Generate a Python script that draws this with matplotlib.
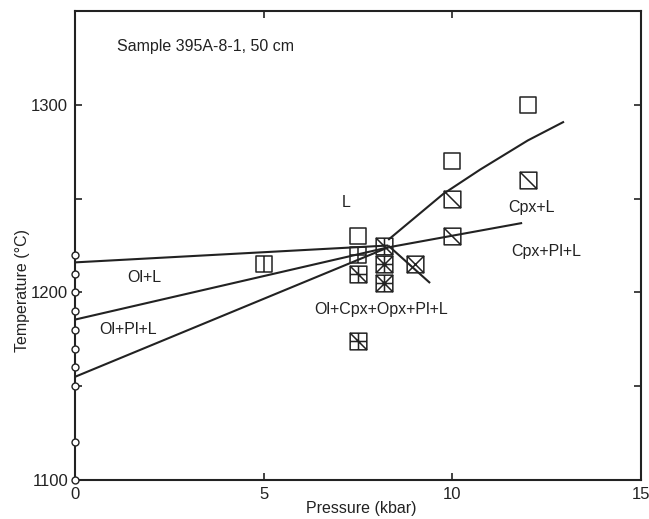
import matplotlib
matplotlib.use("Agg")
import matplotlib.pyplot as plt
from matplotlib.path import Path
import numpy as np

plt.rcParams['font.family'] = ['Liberation Sans', 'DejaVu Sans']

INK = '#222222'

# ---- data ----
# open circles along the T axis (P = 0)
circle_T = [1100, 1120, 1150, 1160, 1170, 1180, 1190, 1200, 1210, 1220]

# experiment squares by symbol type
empty_P = [7.5, 10, 12]
empty_T = [1230, 1270, 1300]
vsplit_P = [5]
vsplit_T = [1215]
plus_P = [7.5]
plus_T = [1220]
plusdiag_P = [7.5, 7.5]
plusdiag_T = [1210, 1174]
diagv_P = [8.2]
diagv_T = [1225]
star_P = [8.2, 8.2]
star_T = [1215, 1205]
cross_P = [9.0]
cross_T = [1215]
diag_P = [10, 10, 12]
diag_T = [1250, 1230, 1260]

# phase boundaries
olL_P = [0, 8.3]
olL_T = [1216, 1225]
olPlL_P = [0, 8.3]
olPlL_T = [1185.5, 1224]
plL_P = [0, 8.3]
plL_T = [1155, 1224]
cpxPl_P = [8.3, 11.85]
cpxPl_T = [1224, 1237]
cpxL_P = [8.3, 9.76, 10.74, 12.0, 12.96]
cpxL_T = [1228, 1252.5, 1265.5, 1281, 1291]
opx_P = [8.3, 9.41]
opx_T = [1225, 1205]

labels = [
    ("Sample 395A-8-1, 50 cm", 1.1, 1331, 'left'),
    ("L", 7.2, 1248, 'center'),
    ("Cpx+L", 12.1, 1245, 'center'),
    ("Cpx+Pl+L", 12.5, 1222, 'center'),
    ("Ol+L", 1.85, 1208, 'center'),
    ("Ol+Pl+L", 1.4, 1180, 'center'),
    ("Ol+Cpx+Opx+Pl+L", 8.1, 1191, 'center'),
]

# ---- marker shapes ----
SEG = {
    'v': [(0, -1), (0, 1)],
    'h': [(-1, 0), (1, 0)],
    'd': [(-1, 1), (1, -1)],
    'a': [(-1, -1), (1, 1)],
}


def square_marker(parts):
    verts = [(-1, -1), (1, -1), (1, 1), (-1, 1), (-1, -1)]
    codes = [Path.MOVETO, Path.LINETO, Path.LINETO, Path.LINETO, Path.CLOSEPOLY]
    for p in parts:
        a, b = SEG[p]
        verts += [a, b]
        codes += [Path.MOVETO, Path.LINETO]
    return Path(verts, codes)


fig = plt.figure(figsize=(6.49, 5.19), dpi=100)
ax = fig.add_axes([75 / 649, 1 - 480 / 519, 566 / 649, 469 / 519])

lw = 1.5
for P, T in [(olL_P, olL_T), (olPlL_P, olPlL_T), (plL_P, plL_T),
             (cpxPl_P, cpxPl_T), (cpxL_P, cpxL_T), (opx_P, opx_T)]:
    ax.plot(P, T, color=INK, lw=lw, solid_capstyle='butt')

ms = 12
mew = 1.1
for P, T, parts in [(empty_P, empty_T, []), (vsplit_P, vsplit_T, ['v']),
                    (plus_P, plus_T, ['v', 'h']),
                    (plusdiag_P, plusdiag_T, ['v', 'h', 'd']),
                    (diagv_P, diagv_T, ['d', 'v']),
                    (star_P, star_T, ['v', 'h', 'd', 'a']),
                    (cross_P, cross_T, ['d', 'a']),
                    (diag_P, diag_T, ['d'])]:
    ax.plot(P, T, linestyle='none', marker=square_marker(parts), ms=ms,
            mfc='none', mec=INK, mew=mew)

ax.plot(np.zeros(len(circle_T)), circle_T, linestyle='none', marker='o', ms=5,
        mfc='white', mec=INK, mew=1.0, clip_on=False, zorder=5)

for txt, x, y, ha in labels:
    ax.text(x, y, txt, ha=ha, va='center', fontsize=11.5, color=INK)

ax.set_xlim(0, 15)
ax.set_ylim(1100, 1350)
ax.set_xticks([0, 5, 10, 15])
ax.set_yticks([1100, 1150, 1200, 1250, 1300])
ax.set_yticklabels(['1100', '', '1200', '', '1300'])
ax.tick_params(direction='in', length=5, width=1.2, top=True, right=True,
               labelsize=12, colors=INK, pad=5)
for s in ax.spines.values():
    s.set_linewidth(1.5)
    s.set_color(INK)

ax.set_xlabel("Pressure (kbar)", fontsize=11.5, color=INK)
ax.set_ylabel("Temperature (°C)", fontsize=11.5, color=INK)
ax.xaxis.set_label_coords(0.505, -0.044)
ax.yaxis.set_label_coords(-0.08, 0.403)

fig.savefig("out.png", dpi=100, facecolor='white')
